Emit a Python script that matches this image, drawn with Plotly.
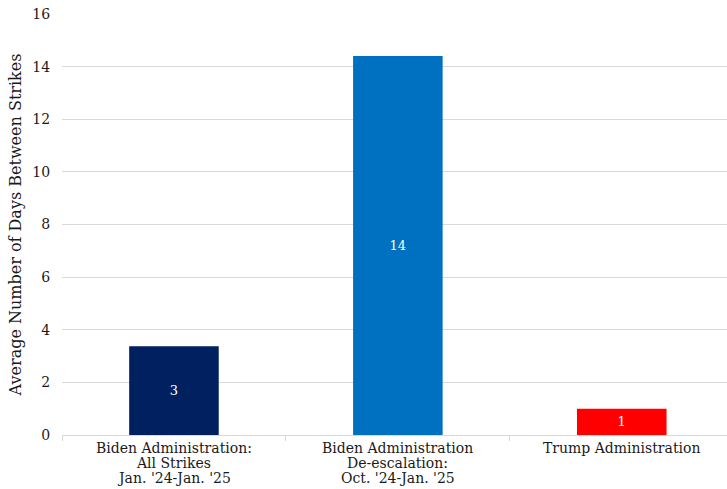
import plotly.graph_objects as go

categories = [
    "Biden Administration: All Strikes",
    "Biden Administration De-escalation",
    "Trump Administration",
]
category_lines = [
    ["Biden Administration:", "All Strikes", "Jan. '24-Jan. '25"],
    ["Biden Administration", "De-escalation:", "Oct. '24-Jan. '25"],
    ["Trump Administration"],
]
values = [3.37, 14.4, 1.0]
colors = ["#002060", "#0070C0", "#FF0000"]
y_ticks = [0, 2, 4, 6, 8, 10, 12, 14, 16]
y_title = "Average Number of Days Between Strikes"

font_family = "DejaVu Serif"
text_color = "#1a1a1a"

fig = go.Figure(
    go.Bar(
        x=categories,
        y=values,
        marker=dict(color=colors, line=dict(width=0)),
        texttemplate="%{y:.0f}",
        textposition="inside",
        insidetextanchor="middle",
        textfont=dict(color="white", size=13, family=font_family),
        width=0.4,
    )
)

# category labels, one line each, placed under the axis at each category
for cat, lines in zip(categories, category_lines):
    for i, line in enumerate(lines):
        fig.add_annotation(
            x=cat,
            y=0,
            xref="x",
            yref="y",
            text=line,
            showarrow=False,
            yanchor="middle",
            xanchor="center",
            yshift=-(13 + 15 * i),
            font=dict(family=font_family, size=14, color=text_color),
        )

fig.update_layout(
    width=727,
    height=489,
    margin=dict(l=62, r=0, t=14, b=54),
    plot_bgcolor="white",
    paper_bgcolor="white",
    font=dict(family=font_family, color=text_color, size=13),
    showlegend=False,
    bargap=0.6,
)

fig.update_xaxes(
    range=[-0.5, 2.47],
    tickson="boundaries",
    ticks="outside",
    ticklen=5,
    tickcolor="#d9d9d9",
    showticklabels=False,
    showline=True,
    linecolor="#d9d9d9",
    linewidth=1,
    showgrid=False,
    automargin=False,
)

fig.update_yaxes(
    range=[0, 16],
    tickvals=y_ticks,
    showgrid=True,
    gridcolor="#d9d9d9",
    gridwidth=1,
    zeroline=False,
    ticks="outside",
    ticklen=8,
    tickcolor="white",
    tickfont=dict(size=14, color=text_color),
    automargin=False,
    title=dict(text=y_title, font=dict(size=16, color=text_color), standoff=6),
)

fig.write_html(
    "out.html",
    config={"displayModeBar": False},
    post_script="document.body.style.margin='0';document.body.style.padding='0';",
)
